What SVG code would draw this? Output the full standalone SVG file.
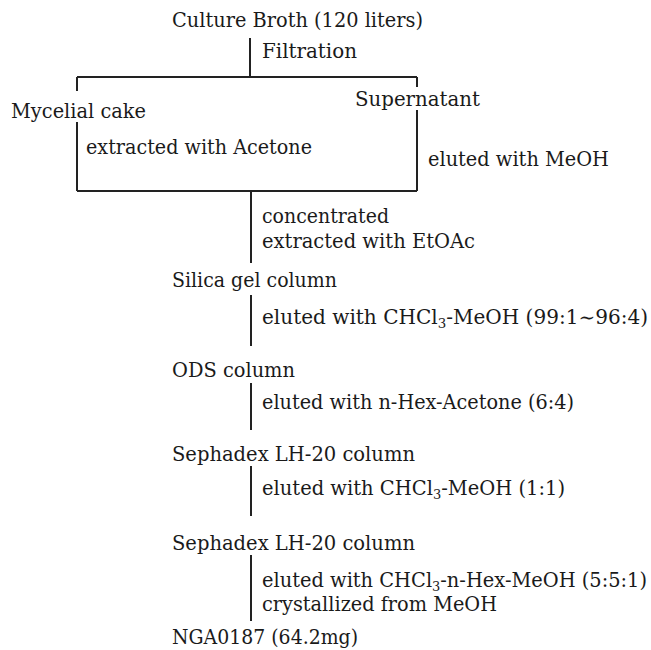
<svg xmlns="http://www.w3.org/2000/svg" width="651" height="650" viewBox="0 0 651 650">
<style>
text{font-family:"DejaVu Serif","Liberation Serif",serif;font-size:19.5px;fill:#1a1a1a}
.ln{stroke:#222;stroke-width:2;fill:none;stroke-linecap:butt}
.sub{font-size:13px}
</style>
<rect width="651" height="650" fill="#fff"/>
<g id="connectors">
<path class="ln" d="M250 38V77M77 77H417M77 77V91M417 77V87M77 122V191M417 110V191M77 191H417"/>
<path class="ln" d="M251 191V263M251 295V346M251 383V430M251 466V516M251 555V621"/>
</g>
<g id="culture"><text x="172" y="27" textLength="251" lengthAdjust="spacingAndGlyphs">Culture Broth (120 liters)</text></g>
<g id="filtration"><text x="262" y="58" textLength="95" lengthAdjust="spacingAndGlyphs">Filtration</text></g>
<g id="mycelial"><text x="11" y="118" textLength="135" lengthAdjust="spacingAndGlyphs">Mycelial cake</text></g>
<g id="supernatant"><text x="355" y="106" textLength="125" lengthAdjust="spacingAndGlyphs">Supernatant</text></g>
<g id="acetone"><text x="86" y="154" textLength="226" lengthAdjust="spacingAndGlyphs">extracted with Acetone</text></g>
<g id="meoh"><text x="428" y="166" textLength="181" lengthAdjust="spacingAndGlyphs">eluted with MeOH</text></g>
<g id="concentrated">
<text x="262" y="223" textLength="127" lengthAdjust="spacingAndGlyphs">concentrated</text>
<text x="262" y="248" textLength="213" lengthAdjust="spacingAndGlyphs">extracted with EtOAc</text>
</g>
<g id="silica"><text x="172" y="287" textLength="165" lengthAdjust="spacingAndGlyphs">Silica gel column</text></g>
<g id="step-silica"><text x="262" y="324" textLength="386" lengthAdjust="spacingAndGlyphs">eluted with CHCl<tspan class="sub" dy="4">3</tspan><tspan dy="-4">-MeOH (99:1∼96:4)</tspan></text></g>
<g id="ods"><text x="172" y="377" textLength="123" lengthAdjust="spacingAndGlyphs">ODS column</text></g>
<g id="step-ods"><text x="262" y="409" textLength="312" lengthAdjust="spacingAndGlyphs">eluted with n-Hex-Acetone (6:4)</text></g>
<g id="sephadex1"><text x="172" y="461" textLength="243" lengthAdjust="spacingAndGlyphs">Sephadex LH-20 column</text></g>
<g id="step-sephadex1"><text x="262" y="495" textLength="303" lengthAdjust="spacingAndGlyphs">eluted with CHCl<tspan class="sub" dy="4">3</tspan><tspan dy="-4">-MeOH (1:1)</tspan></text></g>
<g id="sephadex2"><text x="172" y="550" textLength="243" lengthAdjust="spacingAndGlyphs">Sephadex LH-20 column</text></g>
<g id="step-sephadex2">
<text x="262" y="587" textLength="385" lengthAdjust="spacingAndGlyphs">eluted with CHCl<tspan class="sub" dy="4">3</tspan><tspan dy="-4">-n-Hex-MeOH (5:5:1)</tspan></text>
<text x="262" y="611" textLength="235" lengthAdjust="spacingAndGlyphs">crystallized from MeOH</text>
</g>
<g id="nga0187"><text x="172" y="644" textLength="186" lengthAdjust="spacingAndGlyphs">NGA0187 (64.2mg)</text></g>
</svg>
